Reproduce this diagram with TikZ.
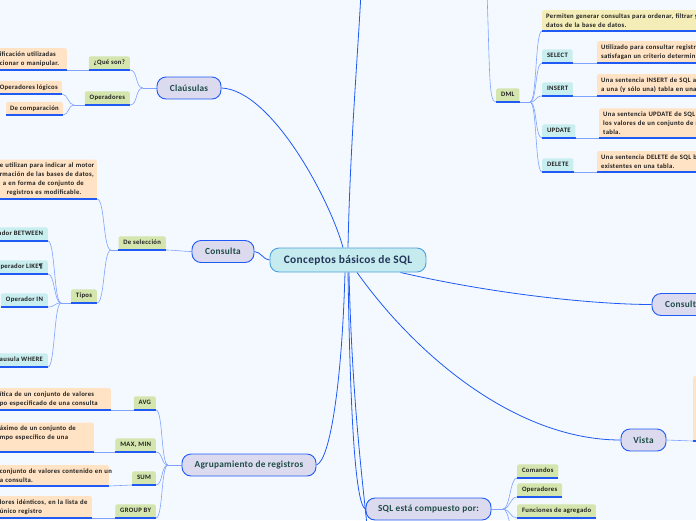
\documentclass[tikz,border=0pt]{standalone}
\usepackage{fontspec}
\setmainfont{Carlito}
\newfontfamily\tagfont[LetterSpace=4.5]{Carlito}
\newfontfamily\topicfont[LetterSpace=3]{Carlito}
\usetikzlibrary{positioning,calc}
\definecolor{bgBlue}{HTML}{F3F9FF}
\definecolor{lineBlue}{HTML}{1F5AF5}
\definecolor{softBlue}{HTML}{7FA2FF}
\definecolor{topicFill}{HTML}{DCDAEE}
\definecolor{topicText}{HTML}{1E4D47}
\definecolor{rootFill}{HTML}{C5EBEE}
\definecolor{rootLine}{HTML}{4CA0DA}
\definecolor{rootText}{HTML}{22345A}
\definecolor{greenFill}{HTML}{D4E5AE}
\definecolor{cyanFill}{HTML}{C9EEF0}
\definecolor{peachFill}{HTML}{FFE3C4}
\definecolor{sandFill}{HTML}{F4EDB8}
\pgfdeclarelayer{back}
\pgfdeclarelayer{links}
\pgfsetlayers{back,links,main}

\tikzset{
  root/.style={draw=rootLine, fill=rootFill, line width=0.9pt, rounded corners=9pt,
    minimum width=156pt, minimum height=24pt, font=\topicfont\bfseries\fontsize{11.4}{12}\selectfont, text=rootText},
  topic/.style={draw=lineBlue, fill=topicFill, line width=0.9pt, rounded corners=9pt,
    minimum height=22pt, font=\topicfont\bfseries\fontsize{9.3}{10}\selectfont, text=topicText},
  tag/.style={fill=greenFill, rounded corners=1.5pt, inner xsep=4.8pt, inner ysep=0pt,
    minimum height=13.5pt, text height=4.6pt, text depth=1.4pt,
    font=\tagfont\bfseries\fontsize{6.7}{7}\selectfont, text=black!88},
  cyantag/.style={tag, fill=cyanFill},
  note/.style={fill=peachFill, rounded corners=1.5pt, inner xsep=4pt, inner ysep=3.6pt,
    align=left, font=\tagfont\bfseries\fontsize{6.7}{8.7}\selectfont, text=black!88},
  leftnote/.style={note, text width=#1},
  rightnote/.style={note, anchor=south west, text width=240pt},
  trunk/.style={draw=lineBlue, line width=0.8pt},
  twig/.style={draw=softBlue, line width=0.6pt},
  underline/.style={draw=lineBlue, line width=1.3pt}
}

\begin{document}
\begin{tikzpicture}[x=1pt,y=-1pt]
  \useasboundingbox (0,0) rectangle (696,520);
  \begin{pgfonlayer}{back}
    \fill[bgBlue] (0,0) rectangle (696,520);
  \end{pgfonlayer}

  % main topics
  \node[root] (sql) at (348,260) {Conceptos básicos de SQL};
  \node[topic, minimum width=64pt] (clausulas) at (189,88) {Claúsulas};
  \node[topic, minimum width=62pt] (consultaL) at (223,251.5) {Consulta};
  \node[topic, minimum width=134pt] (agrupa) at (249,465) {Agrupamiento de registros};
  \node[topic, minimum width=125pt] (compuesto) at (428.5,509) {SQL está compuesto por:};
  \node[topic, minimum width=45pt] (vista) at (643.5,440) {Vista};
  \node[topic, minimum width=62pt] (consultaR) at (683,304.5) {Consulta};

  % Claúsulas
  \node[tag, anchor=south east] (queson) at (130,70) {¿Qué son?};
  \node[tag, anchor=south east] (operadores) at (130,105) {Operadores};
  \node[leftnote=63pt, anchor=south east] (txt-queson) at (67,70)
    {\mbox{ificación utilizadas}\\\mbox{cionar o manipular.}};
  \node[note, anchor=south east] (logicos) at (62,94) {Operadores lógicos};
  \node[note, anchor=south east] (comparacion) at (63,115) {De comparación};

  % Consulta
  \node[tag, anchor=south east] (seleccion) at (166,250) {De selección};
  \node[leftnote=93pt, anchor=south east] (txt-seleccion) at (97,199)
    {\mbox{e utilizan para indicar al motor}\\\mbox{rmación de las bases de datos,}\\
     \hspace*{3pt}\mbox{a en forma de conjunto de}\\\hspace*{7pt}\mbox{registros es modificable.}};
  \node[tag, anchor=south east] (tipos) at (97,303) {Tipos};
  \node[cyantag, anchor=south east] (between) at (48,241) {ador BETWEEN};
  \node[cyantag, anchor=south east] (like) at (48,274) {Operador LIKE¶};
  \node[cyantag, anchor=south east] (opin) at (48,307) {Operador IN};
  \node[cyantag, anchor=south east] (where) at (48,367) {Clausula WHERE};

  % Agrupamiento de registros
  \node[tag, anchor=south east] (avg) at (156,410) {AVG};
  \node[tag, anchor=south east] (maxmin) at (156,452) {MAX, MIN};
  \node[tag, anchor=south east] (sum) at (156,485) {SUM};
  \node[tag, anchor=south east] (groupby) at (156,518) {GROUP BY};
  \node[leftnote=107pt, anchor=south east] (txt-avg) at (111,410)
    {\mbox{ítica de un conjunto de valores}\\\mbox{po especificado de una consulta}};
  \node[leftnote=90pt, anchor=south east] (txt-maxmin) at (94,452)
    {\mbox{áximo de un conjunto de}\\\mbox{mpo específico de una}\\~};
  \node[leftnote=105pt, anchor=south east] (txt-sum) at (109,486)
    {\mbox{conjunto de valores contenido en un}\\\mbox{a consulta.}};
  \node[leftnote=88pt, anchor=south east] (txt-groupby) at (92,518)
    {\mbox{lores idénticos, en la lista de}\\\mbox{único registro}};

  % DML
  \node[tag, anchor=south west] (dml) at (496,102) {DML};
  \node[rightnote, fill=sandFill] (txt-dml) at (542,31) {Permiten generar consultas para ordenar, filtrar y e\\datos de la base de datos.};
  \node[cyantag, anchor=south west] (select) at (542,63) {SELECT};
  \node[cyantag, anchor=south west] (insert) at (542,96) {INSERT};
  \node[cyantag, anchor=south west] (update) at (542,138) {UPDATE};
  \node[cyantag, anchor=south west] (delete) at (542,172) {DELETE};
  \node[rightnote] (txt-select) at (597,63) {Utilizado para consultar registro\\satisfagan un criterio determina};
  \node[rightnote] (txt-insert) at (597,96) {Una sentencia INSERT de SQL ag\\a una (y sólo una) tabla en una b};
  \node[rightnote] (txt-update) at (599,138) {Una sentencia UPDATE de SQL e\\los valores de un conjunto de re\\tabla.};
  \node[rightnote] (txt-delete) at (597,172) {Una sentencia DELETE de SQL bo\\existentes en una tabla.};

  % Vista
  \node[note, anchor=south west, minimum width=30pt, minimum height=65pt] (txt-vista) at (693,441) {};

  % SQL está compuesto por
  \node[tag, anchor=south west] (comandos) at (517,478) {Comandos};
  \node[tag, anchor=south west] (operadores2) at (517,497) {Operadores};
  \node[tag, anchor=south west] (funciones) at (517,518) {Funciones de agregado};

  % underline every tag and note
  \foreach \n in {queson,operadores,txt-queson,logicos,comparacion,seleccion,txt-seleccion,tipos,
      between,like,opin,where,avg,maxmin,sum,groupby,txt-avg,txt-maxmin,txt-sum,txt-groupby,
      dml,txt-dml,select,insert,update,delete,txt-select,txt-insert,txt-update,txt-delete,
      txt-vista,comandos,operadores2,funciones}
    \draw[underline] (\n.south west) -- (\n.south east);

  \coordinate (topEnd) at (361,-8);
  \coordinate (bottomEnd) at (368,535);
  \coordinate (dmlTop) at (487,-8);
  \coordinate (clauFork) at (143,88);
  \coordinate (operFork) at (74,105);
  \coordinate (selFork) at (111,250);
  \coordinate (tiposFork) at (61,303);
  \coordinate (agrFork) at (168,465);
  \coordinate (dmlFork) at (530,102);
  \coordinate (compFork) at (503,509);
  \coordinate (compMore) at (517,540);

  \begin{pgfonlayer}{links}
    % draw the main branches
    \draw[trunk] (sql.north) .. controls +(2,-100) and +(-3,60) .. (topEnd);
    \draw[trunk] (clausulas.east) .. controls +(50,2) and +(-13,-48) .. ($(sql.north)+(-5,0)$);
    \draw[trunk] (sql.west) .. controls +(-6,0) and +(6,0) .. (consultaL.east);
    \draw[trunk] ($(sql.south)+(-3,0)$) .. controls +(-3,108) and +(14,-5) .. (agrupa.east);
    \draw[trunk] (sql.south) .. controls +(2,128) and +(-11,-4) .. (compuesto.west);
    \draw[trunk] ($(sql.south)+(1,0)$) .. controls +(3,128) and +(-5,-50) .. (bottomEnd);
    \draw[trunk] ($(sql.south)+(9,0)$) .. controls +(63,88) and +(-101,0) .. (vista.west);
    \draw[trunk] ($(sql.south east)+(-26,0)$) .. controls +(100,23) and +(-52,0) .. (consultaR.west);
    \draw[twig] (dmlTop) .. controls (490,80) and (489,102) .. (dml.south west);

    % draw the sub branches
    \draw[twig] (clausulas.west) -- (clauFork);
    \foreach \n in {queson,operadores}
      \draw[twig] (clauFork) .. controls +(-8,0) and +(8,0) .. (\n.south east);
    \draw[twig] (txt-queson.south east) -- (queson.south west);
    \draw[twig] (operadores.south west) -- (operFork);
    \foreach \n in {logicos,comparacion}
      \draw[twig] (operFork) .. controls +(-6,0) and +(6,0) .. (\n.south east);

    \draw[twig] (consultaL.west) .. controls +(-8,0) and +(8,0) .. (seleccion.south east);
    \draw[twig] (seleccion.south west) -- (selFork);
    \foreach \n in {txt-seleccion,tipos}
      \draw[twig] (selFork) .. controls +(-8,0) and +(8,0) .. (\n.south east);
    \draw[twig] (tipos.south west) -- (tiposFork);
    \foreach \n in {between,like,opin,where}
      \draw[twig] (tiposFork) .. controls +(-7,0) and +(7,0) .. (\n.south east);

    \draw[twig] (agrupa.west) -- (agrFork);
    \foreach \n in {avg,maxmin,sum,groupby}
    {
      \draw[twig] (agrFork) .. controls +(-7,0) and +(7,0) .. (\n.south east);
      \draw[twig] (txt-\n.south east) -- (\n.south west);
    }

    \draw[twig] (dml.south east) -- (dmlFork);
    \foreach \n in {txt-dml,select,insert,update,delete}
      \draw[twig] (dmlFork) .. controls +(7,0) and +(-7,0) .. (\n.south west);
    \foreach \n in {select,insert,update,delete}
      \draw[twig] (\n.south east) -- (txt-\n.south west);

    \draw[twig] (vista.east) -- (txt-vista.south west);

    \draw[twig] (compuesto.east) -- (compFork);
    \foreach \n in {comandos,operadores2,funciones}
      \draw[twig] (compFork) .. controls +(7,0) and +(-7,0) .. (\n.south west);
    \draw[twig] (compFork) .. controls +(7,0) and +(-7,0) .. (compMore);
  \end{pgfonlayer}
\end{tikzpicture}
\end{document}
